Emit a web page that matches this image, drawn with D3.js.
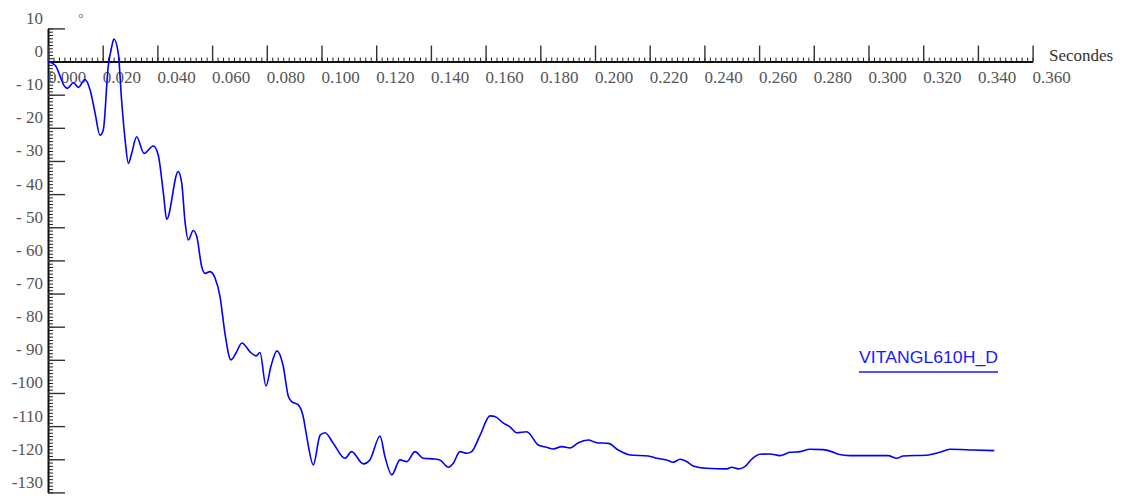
<!DOCTYPE html>
<html>
<head>
<meta charset="utf-8">
<script src="https://cdn.jsdelivr.net/npm/d3@7"></script>
<style>
  body { margin: 0; background: #fff; }
  svg { display: block; }
</style>
</head>
<body>
<svg id="chart" width="1125" height="498"></svg>
<script>
// time in seconds
const timeS = [
  0, 0.0026, 0.0062, 0.0071, 0.0093, 0.0111, 0.0135, 0.0154, 0.0172, 0.0190,
  0.0202, 0.0220, 0.0233, 0.0241, 0.0257, 0.0269, 0.0282, 0.0294, 0.0306, 0.0324,
  0.0351, 0.0385, 0.0403, 0.0422, 0.0434, 0.0476, 0.0489, 0.0501, 0.0513, 0.0531,
  0.0544, 0.0562, 0.0574, 0.0592, 0.0611, 0.0629, 0.0647, 0.0669, 0.0687, 0.0709,
  0.0739, 0.0761, 0.0775, 0.0797, 0.0815, 0.0837, 0.0859, 0.0879, 0.0891, 0.0915,
  0.0933, 0.0946, 0.0970, 0.0995, 0.1013, 0.1043, 0.1086, 0.1110, 0.1153, 0.1177,
  0.1214, 0.1232, 0.1257, 0.1287, 0.1312, 0.1342, 0.1372, 0.1415, 0.1433, 0.1464,
  0.1482, 0.1506, 0.1531, 0.1549, 0.1580, 0.1616, 0.1634, 0.1665, 0.1689, 0.1714,
  0.1750, 0.1793, 0.1823, 0.1848, 0.1878, 0.1909, 0.1939, 0.1975, 0.2006, 0.2049,
  0.2085, 0.2128, 0.2195, 0.2226, 0.2262, 0.2286, 0.2311, 0.2335, 0.2359, 0.2408,
  0.2482, 0.2500, 0.2524, 0.2548, 0.2573, 0.2603, 0.2640, 0.2676, 0.2713, 0.2750,
  0.2786, 0.2835, 0.2865, 0.2890, 0.2932, 0.3072, 0.3103, 0.3127, 0.3219, 0.3261,
  0.3298, 0.3383, 0.3460
];

// angle values (degrees) for VITANGL610H_D
const angleDeg = [
  0, -1.1, -7.6, -8.1, -6.4, -7.8, -5.4, -8.6, -15.5, -22.2,
  -20.7, -1.6, 4.5, 6.8, 2.5, -11.6, -23.7, -30.7, -27.7, -22.7,
  -27.7, -25.5, -28.2, -39.8, -47.6, -33.2, -36.7, -48.3, -53.8, -51.0,
  -52.8, -61.9, -63.9, -63.4, -65.4, -70.9, -82.0, -90.0, -88.0, -84.9,
  -87.6, -88.8, -87.8, -97.9, -92.0, -87.3, -91.5, -101.1, -102.6, -103.6,
  -107.1, -113.2, -121.7, -112.7, -112.0, -115.2, -119.7, -117.7, -121.4, -120.2,
  -113.0, -119.2, -124.7, -120.2, -120.7, -117.7, -119.7, -119.9, -120.2, -122.4,
  -121.2, -117.7, -118.2, -117.7, -112.7, -106.9, -107.1, -109.1, -110.2, -112.0,
  -111.7, -115.7, -116.4, -116.9, -116.2, -116.6, -115.0, -114.2, -115.0, -115.2,
  -117.2, -118.7, -119.0, -119.7, -120.2, -120.9, -120.0, -120.7, -122.0, -122.7,
  -122.9, -122.4, -122.9, -122.2, -120.0, -118.5, -118.4, -118.9, -117.9, -117.7,
  -117.0, -117.1, -117.7, -118.5, -118.9, -118.9, -119.7, -119.0, -118.7, -117.9,
  -117.0, -117.2, -117.4
];

const xMajorTicks = d3.range(0, 0.3601, 0.02);
const xMinorTicks = d3.range(0, 0.3601, 0.002);
const yMajorTicks = d3.range(10, -131, -10);
const yMinorTicks = d3.range(10, -131, -1);
const seriesName = "VITANGL610H_D";
const xTitle = "Secondes";
const unitLabel = "o";

const svg = d3.select("#chart");

// scales
const x = d3.scaleLinear().domain([0, 0.36]).range([48, 1032.6]);
const y = d3.scaleLinear().domain([10, -130]).range([28.4, 492.4]);

const serif = "'Liberation Serif', 'Times New Roman', serif";

// y axis: ticks on the right side, labels drawn by hand on the left
svg.append("g")
    .attr("transform", `translate(${x(0)},0)`)
    .call(d3.axisRight(y).tickValues(yMinorTicks).tickSize(5).tickFormat("").tickSizeOuter(0))
    .call(g => g.select(".domain").remove())
    .call(g => g.selectAll("line").attr("stroke", "#222").attr("stroke-width", 1));

svg.append("g")
    .attr("transform", `translate(${x(0)},0)`)
    .call(d3.axisRight(y).tickValues(yMajorTicks).tickSize(17).tickFormat("").tickSizeOuter(0))
    .call(g => g.select(".domain").attr("stroke", "#111").attr("stroke-width", 2))
    .call(g => g.selectAll("line").attr("stroke", "#333").attr("stroke-width", 1.4));

svg.append("g")
    .selectAll("text")
    .data(yMajorTicks)
    .join("text")
    .attr("x", 43)
    .attr("y", d => y(d) - 4.5)
    .attr("text-anchor", "end")
    .style("font", `17px ${serif}`)
    .attr("fill", "#555")
    .attr("xml:space", "preserve")
    .text(d => (d < 0 && d > -100) ? "- " + Math.abs(d) : (d <= -100 ? "-" + Math.abs(d) : String(d)));

// x axis: ticks pointing up, labels below and left-aligned on the tick
svg.append("g")
    .attr("transform", `translate(0,${y(0)})`)
    .call(d3.axisTop(x).tickValues(xMinorTicks).tickSize(4).tickFormat("").tickSizeOuter(0))
    .call(g => g.select(".domain").remove())
    .call(g => g.selectAll("line").attr("stroke", "#222").attr("stroke-width", 1));

svg.append("g")
    .attr("transform", `translate(0,${y(0)})`)
    .call(d3.axisTop(x).tickValues(xMajorTicks).tickSize(16).tickFormat("").tickSizeOuter(0))
    .call(g => g.select(".domain").attr("stroke", "#111").attr("stroke-width", 2))
    .call(g => g.selectAll("line").attr("stroke", "#333").attr("stroke-width", 1.4));

svg.append("g")
    .selectAll("text")
    .data(xMajorTicks)
    .join("text")
    .attr("x", d => x(d))
    .attr("y", y(0) + 21.5)
    .style("font", `17px ${serif}`)
    .attr("fill", "#555")
    .text(d => d3.format(".3f")(d));

svg.append("text")
    .attr("x", 1049)
    .attr("y", y(0) - 0.5)
    .style("font", `17px ${serif}`)
    .attr("fill", "#333")
    .text(xTitle);

svg.append("text")
    .attr("x", 81)
    .attr("y", 18)
    .attr("text-anchor", "middle")
    .style("font", "8px 'Liberation Sans', Arial, sans-serif")
    .attr("fill", "#555")
    .text(unitLabel);

// the curve
const points = timeS.map((t, i) => [t, angleDeg[i]]);
const line = d3.line()
    .x(d => x(d[0]))
    .y(d => y(d[1]))
    .curve(d3.curveMonotoneX);

svg.append("path")
    .datum(points)
    .attr("fill", "none")
    .attr("stroke", "#0000ff")
    .attr("stroke-width", 1.6)
    .attr("d", line);

// legend
svg.append("text")
    .attr("x", 859)
    .attr("y", 363)
    .style("font", "17px 'Liberation Sans', Arial, sans-serif")
    .attr("fill", "#1a1aff")
    .attr("textLength", 139)
    .attr("lengthAdjust", "spacingAndGlyphs")
    .text(seriesName);

svg.append("line")
    .attr("x1", 859).attr("x2", 998)
    .attr("y1", 372).attr("y2", 372)
    .attr("stroke", "#1a1aff")
    .attr("stroke-width", 1.5);
</script>
</body>
</html>
